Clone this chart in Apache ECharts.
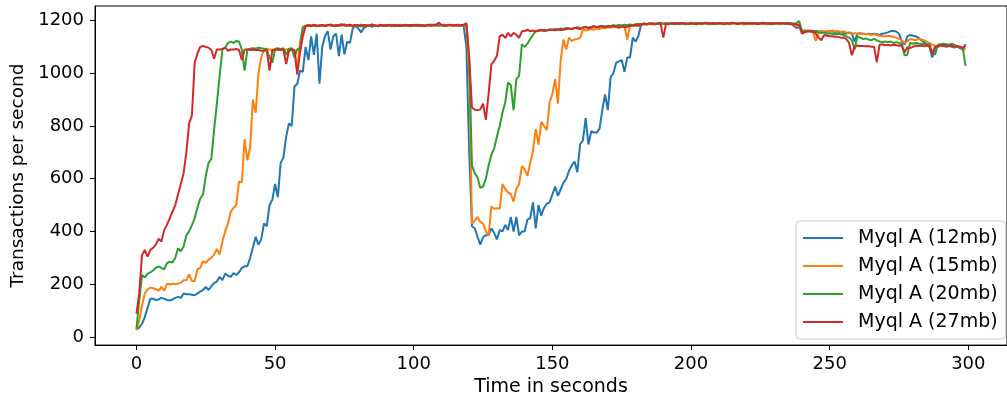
<!DOCTYPE html>
<html>
<head>
<meta charset="utf-8">
<script src="https://cdn.jsdelivr.net/npm/echarts@6/dist/echarts.min.js"></script>
<style>
html,body{margin:0;padding:0;background:#fff;}
#chart{width:1007px;height:402px;}
</style>
</head>
<body>
<div id="chart"></div>
<script>
const seriesNames = ['Myql A (12mb)', 'Myql A (15mb)', 'Myql A (20mb)', 'Myql A (27mb)'];
const seriesColors = ['#1f77b4', '#ff7f0e', '#2ca02c', '#d62728'];
const xTicks = [0, 50, 100, 150, 200, 250, 300];
const yTicks = [0, 200, 400, 600, 800, 1000, 1200];

const mysql12 = [28,35,50,75,110,145,145,140,142,148,
145,140,138,142,148,152,148,165,162,162,
160,158,165,172,178,190,178,192,205,210,
228,215,240,232,228,242,235,245,262,268,
268,300,340,380,350,370,430,420,500,520,
580,530,660,680,760,810,800,950,960,1010,
1005,1100,1050,1140,1070,1150,960,1100,1140,1160,
1090,1140,1150,1065,1146,1072,1120,1115,1170,1180,
1170,1155,1172,1178,1180,1176,1182,1178,1180,1183,
1179,1181,1184,1178,1180,1182,1179,1183,1181,1178,
1182,1180,1184,1181,1179,1183,1180,1182,1185,1181,
1183,1180,1182,1184,1181,1183,1180,1182,1180,1100,
700,420,412,380,350,378,386,386,412,395,
370,405,400,425,405,455,400,455,385,400,
400,445,450,510,412,500,460,490,505,510,
540,570,535,560,585,600,630,650,665,625,
730,745,830,730,780,775,775,790,860,920,
860,985,1000,1040,1045,1050,1005,1060,1060,1135,
1120,1140,1185,1188,1185,1188,1186,1189,1187,1190,
1188,1186,1189,1191,1188,1187,1190,1188,1186,1189,
1191,1188,1190,1187,1189,1192,1188,1190,1187,1189,
1191,1188,1186,1190,1189,1187,1191,1188,1190,1192,
1189,1187,1190,1188,1191,1189,1187,1190,1188,1186,
1189,1191,1188,1190,1187,1189,1188,1180,1172,1175,
1160,1158,1160,1162,1158,1160,1158,1160,1155,1158,
1160,1158,1156,1158,1155,1152,1150,1155,1150,1120,
1150,1152,1150,1148,1150,1148,1150,1148,1145,1150,
1152,1155,1160,1160,1158,1150,1120,1108,1140,1145,
1142,1140,1135,1125,1118,1110,1100,1060,1095,1100,
1105,1103,1100,1105,1100,1098,1100,1095,1090,1110];

const mysql15 = [25,63,120,165,180,187,185,181,175,190,
175,202,199,202,200,202,205,215,215,237,
212,212,256,262,287,281,293,300,312,334,
312,362,401,430,474,490,501,590,586,750,
670,720,900,850,1000,1060,1090,1093,1090,1088,
1092,1090,1093,1088,1090,1092,1090,1088,1010,1120,
1175,1178,1180,1178,1181,1179,1182,1180,1178,1181,
1183,1180,1182,1179,1181,1184,1180,1182,1179,1183,
1181,1179,1183,1180,1182,1184,1181,1179,1182,1180,
1183,1181,1178,1182,1184,1180,1182,1179,1183,1181,
1180,1183,1181,1179,1182,1184,1181,1183,1180,1182,
1184,1181,1179,1183,1182,1180,1184,1181,1183,1180,
1000,430,440,455,436,430,400,385,495,486,
488,486,580,560,548,542,513,561,580,648,
636,611,660,704,788,729,816,800,785,891,
922,978,885,1050,1128,1090,1135,1122,1128,1130,
1134,1165,1162,1165,1168,1165,1170,1168,1172,1170,
1174,1172,1176,1175,1178,1176,1178,1128,1180,1182,
1183,1180,1185,1184,1186,1188,1185,1187,1189,1186,
1188,1190,1187,1189,1186,1190,1188,1191,1187,1189,
1186,1189,1191,1188,1190,1187,1189,1186,1190,1188,
1190,1187,1189,1191,1186,1188,1190,1187,1189,1185,
1188,1190,1186,1189,1187,1191,1188,1186,1190,1188,
1187,1190,1188,1186,1189,1187,1188,1185,1180,1185,
1162,1160,1162,1160,1155,1122,1155,1160,1158,1160,
1158,1162,1158,1160,1156,1158,1155,1152,1150,1152,
1150,1150,1148,1150,1148,1145,1148,1145,1142,1140,
1140,1142,1140,1138,1135,1130,1125,1115,1120,1130,
1128,1125,1130,1128,1125,1120,1115,1108,1105,1100,
1105,1108,1105,1103,1105,1100,1102,1098,1095,1090];

const mysql20 = [31,137,235,225,240,245,252,262,268,262,
256,280,285,282,300,336,325,343,386,400,
424,450,490,525,540,610,660,675,785,885,
990,1090,1097,1115,1120,1115,1122,1120,1090,1010,
1090,1093,1095,1093,1097,1095,1093,1090,1060,1040,
1093,1095,1090,1095,1070,1093,1095,1060,1090,1095,
1175,1180,1183,1180,1182,1178,1181,1183,1180,1184,
1181,1179,1183,1180,1182,1185,1180,1182,1179,1183,
1181,1184,1180,1182,1179,1183,1181,1180,1184,1182,
1180,1183,1181,1179,1182,1184,1181,1180,1183,1181,
1184,1180,1182,1183,1180,1182,1185,1181,1183,1180,
1182,1184,1181,1183,1180,1182,1184,1181,1183,1185,
1050,650,620,605,565,570,600,650,690,715,
760,800,850,890,965,955,860,978,990,1110,
1100,1112,1130,1145,1160,1160,1162,1165,1163,1166,
1165,1168,1166,1170,1168,1172,1170,1168,1172,1175,
1172,1174,1176,1173,1176,1178,1175,1178,1180,1177,
1180,1178,1182,1180,1183,1181,1184,1182,1185,1183,
1186,1188,1185,1189,1187,1190,1188,1186,1189,1191,
1188,1190,1187,1189,1191,1188,1186,1190,1189,1187,
1190,1188,1191,1189,1187,1190,1192,1188,1190,1189,
1187,1191,1189,1188,1190,1192,1189,1187,1190,1191,
1189,1188,1191,1190,1187,1189,1192,1190,1188,1191,
1190,1188,1191,1189,1190,1192,1190,1188,1190,1198,
1160,1162,1158,1160,1155,1158,1155,1152,1155,1150,
1152,1150,1148,1150,1148,1145,1140,1135,1125,1090,
1140,1135,1130,1132,1128,1125,1130,1125,1120,1118,
1120,1118,1120,1115,1118,1115,1110,1068,1070,1115,
1112,1115,1113,1112,1110,1108,1110,1078,1070,1108,
1110,1112,1110,1108,1112,1108,1100,1098,1095,1028];

const mysql27 = [87,165,310,330,305,330,338,350,372,362,
405,425,450,475,500,540,580,620,700,810,
840,1040,1075,1100,1103,1100,1097,1088,1055,1090,
1090,1092,1097,1085,1090,1090,1092,1088,1050,1090,
1090,1088,1090,1088,1088,1085,1084,1088,1010,1088,
1088,1090,1088,1090,1035,1085,1090,1088,995,1080,
1140,1178,1182,1180,1184,1181,1179,1183,1180,1182,
1185,1181,1179,1183,1186,1180,1182,1184,1180,1183,
1181,1178,1183,1180,1182,1185,1181,1179,1183,1180,
1182,1184,1180,1183,1181,1179,1182,1184,1180,1183,
1181,1184,1180,1182,1179,1183,1181,1184,1182,1192,
1183,1180,1182,1184,1181,1183,1180,1182,1184,1190,
1060,870,862,860,863,885,823,922,1034,1047,
1066,1140,1146,1134,1153,1140,1153,1146,1134,1159,
1160,1165,1159,1162,1158,1163,1165,1160,1162,1165,
1165,1163,1166,1164,1165,1168,1170,1168,1172,1170,
1168,1172,1175,1170,1174,1178,1175,1176,1178,1175,
1176,1178,1180,1176,1172,1178,1174,1176,1180,1180,
1182,1180,1185,1188,1186,1188,1190,1186,1188,1190,
1135,1188,1186,1189,1187,1190,1188,1191,1189,1187,
1190,1188,1186,1190,1189,1191,1187,1189,1190,1188,
1191,1189,1187,1190,1188,1192,1189,1187,1190,1188,
1189,1191,1188,1190,1187,1189,1191,1188,1190,1187,
1189,1190,1188,1191,1189,1187,1186,1188,1185,1183,
1150,1155,1160,1158,1160,1150,1135,1125,1145,1142,
1140,1140,1138,1138,1135,1135,1130,1115,1068,1100,
1105,1103,1103,1102,1103,1100,1100,1042,1108,1110,
1106,1108,1105,1108,1106,1104,1105,1080,1098,1095,
1100,1105,1103,1105,1102,1105,1103,1072,1100,1103,
1105,1106,1104,1102,1105,1100,1103,1101,1096,1105];

const allSeries = [mysql12, mysql15, mysql20, mysql27];
const FONT = 'DejaVu Sans';

const chart = echarts.init(document.getElementById('chart'), null, {renderer: 'canvas'});
chart.setOption({
  animation: false,
  backgroundColor: '#ffffff',
  textStyle: {fontFamily: FONT},
  grid: {left: 95, top: 6, width: 924, height: 344, show: true, borderColor: '#000', borderWidth: 1, containLabel: false},
  legend: {
    orient: 'vertical', left: 796, top: 221,
    backgroundColor: 'rgba(255,255,255,0.8)', borderColor: '#cccccc', borderWidth: 1, borderRadius: 4,
    padding: [7, 8, 7, 7], itemWidth: 40, itemHeight: 2, itemGap: 8,
    icon: 'rect',
    textStyle: {fontFamily: FONT, fontSize: 19, color: '#000', lineHeight: 20, padding: [0, 0, 0, 10]},
    data: seriesNames.map((n, k) => ({name: n, icon: 'rect', itemStyle: {color: seriesColors[k]}}))
  },
  xAxis: {
    type: 'value', min: -14.95, max: 313.95,
    name: 'Time in seconds', nameLocation: 'middle', nameGap: 31,
    nameTextStyle: {fontFamily: FONT, fontSize: 19, color: '#000'},
    axisLine: {show: true, onZero: false, lineStyle: {color: '#000', width: 1}},
    axisTick: {show: true, length: 5, lineStyle: {color: '#000'}, customValues: xTicks},
    axisLabel: {fontFamily: FONT, fontSize: 18, color: '#000', margin: 10, customValues: xTicks, formatter: v => String(v)},
    splitLine: {show: false}
  },
  yAxis: {
    type: 'value', min: -31, max: 1255,
    name: 'Transactions per second', nameLocation: 'middle', nameGap: 62, nameRotate: 90,
    nameTextStyle: {fontFamily: FONT, fontSize: 18.5, color: '#000'},
    axisLine: {show: true, onZero: false, lineStyle: {color: '#000', width: 1}},
    axisTick: {show: true, length: 5, lineStyle: {color: '#000'}, customValues: yTicks},
    axisLabel: {fontFamily: FONT, fontSize: 18, color: '#000', margin: 11, customValues: yTicks, formatter: v => String(v)},
    splitLine: {show: false}
  },
  series: allSeries.map((vals, k) => ({
    name: seriesNames[k],
    type: 'line',
    symbol: 'none',
    showSymbol: false,
    clip: true,
    color: seriesColors[k],
    lineStyle: {color: seriesColors[k], width: 2},
    data: vals.map((v, i) => [i, v])
  }))
});
</script>
</body>
</html>
